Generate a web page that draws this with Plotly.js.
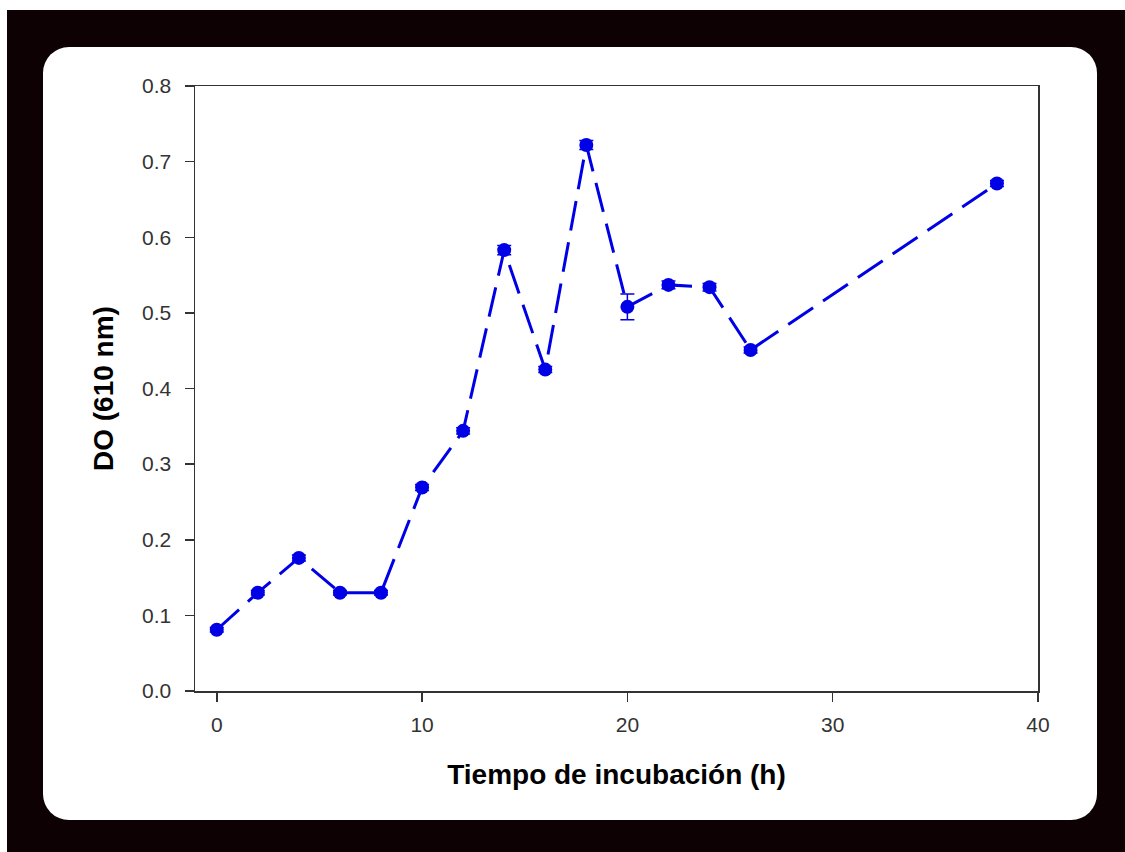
<!DOCTYPE html>
<html>
<head>
<meta charset="utf-8">
<script src="https://cdn.plot.ly/plotly-3.0.1.min.js"></script>
<style>
  html, body { margin:0; padding:0; background:#ffffff; width:1125px; height:852px; overflow:hidden; }
  #bg { position:absolute; left:7px; top:10px; width:1118px; height:842px; background:#0d0103; }
  #card { position:absolute; left:43px; top:47px; width:1054px; height:773px; background:#ffffff; border-radius:26px; }
  #chart { position:absolute; left:0; top:0; width:1125px; height:852px; }
</style>
</head>
<body>
<div id="bg"></div>
<div id="card"></div>
<div id="chart"></div>
<script>
const hours = [0, 2, 4, 6, 8, 10, 12, 14, 16, 18, 20, 22, 24, 26, 38];
const od610 = [0.081, 0.130, 0.176, 0.130, 0.130, 0.269, 0.344, 0.583, 0.425, 0.722, 0.508, 0.537, 0.534, 0.451, 0.671];
const odError = [0.003, 0.003, 0.004, 0.003, 0.003, 0.004, 0.004, 0.006, 0.004, 0.006, 0.017, 0.005, 0.005, 0.004, 0.004];
const xTicks = [0, 10, 20, 30, 40];
const yTicks = [0.0, 0.1, 0.2, 0.3, 0.4, 0.5, 0.6, 0.7, 0.8];

const trace = {
  x: hours,
  y: od610,
  type: 'scatter',
  mode: 'lines+markers',
  line: { color: '#0000e6', width: 3, dash: '30px,12px' },
  marker: { color: '#0000e6', size: 14, symbol: 'circle' },
  error_y: { type: 'data', array: odError, visible: true, color: '#0000e6', thickness: 1.5, width: 7 },
  hoverinfo: 'x+y',
  showlegend: false
};

const axisFont = { family: 'Liberation Sans, Arial, sans-serif', size: 21, color: '#333333' };
const titleFont = { family: 'Liberation Sans, Arial, sans-serif', size: 28, color: '#000000', weight: 'bold' };

const layout = {
  width: 1125,
  height: 852,
  margin: { l: 195, r: 87, t: 86, b: 161 },
  paper_bgcolor: 'rgba(0,0,0,0)',
  plot_bgcolor: '#ffffff',
  xaxis: {
    range: [-1.06, 40],
    tickvals: xTicks,
    ticktext: xTicks.map(v => String(v)),
    ticks: 'outside',
    ticklen: 9,
    tickwidth: 1.5,
    tickcolor: '#333333',
    ticklabelstandoff: 5,
    showline: true,
    linecolor: '#333333',
    linewidth: 1.5,
    mirror: true,
    showgrid: false,
    zeroline: false,
    tickfont: axisFont,
    title: { text: 'Tiempo de incubación (h)', font: titleFont, standoff: 29 }
  },
  yaxis: {
    range: [0, 0.8],
    tickvals: yTicks,
    ticktext: yTicks.map(v => v.toFixed(1)),
    ticks: 'outside',
    ticklen: 9,
    tickwidth: 1.5,
    tickcolor: '#333333',
    ticklabelstandoff: 9,
    showline: true,
    linecolor: '#333333',
    linewidth: 1.5,
    mirror: true,
    showgrid: false,
    zeroline: false,
    tickfont: axisFont,
    title: { text: 'DO (610 nm)', font: titleFont, standoff: 20 }
  }
};

Plotly.newPlot('chart', [trace], layout, { staticPlot: true, displayModeBar: false });
</script>
</body>
</html>
